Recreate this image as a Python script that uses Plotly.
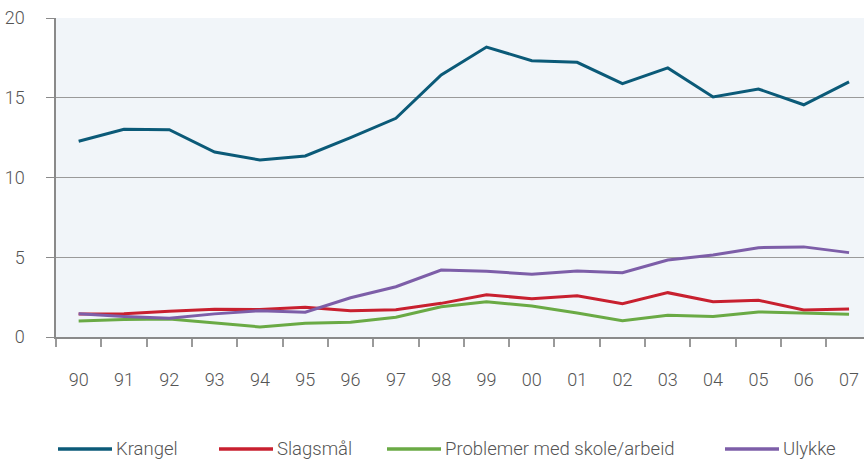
import plotly.graph_objects as go

years = ["90", "91", "92", "93", "94", "95", "96", "97", "98", "99",
         "00", "01", "02", "03", "04", "05", "06", "07"]
krangel = [12.27, 13.02, 13.0, 11.6, 11.1, 11.35, 12.5, 13.71, 16.43, 18.18,
           17.32, 17.22, 15.88, 16.87, 15.05, 15.55, 14.56, 16.0]
slagsmal = [1.44, 1.45, 1.62, 1.74, 1.72, 1.86, 1.65, 1.71, 2.11, 2.65,
            2.4, 2.59, 2.09, 2.78, 2.21, 2.3, 1.69, 1.75]
problemer = [1.0, 1.1, 1.13, 0.9, 0.63, 0.86, 0.92, 1.24, 1.9, 2.21,
             1.94, 1.5, 1.02, 1.36, 1.28, 1.57, 1.48, 1.42]
ulykke = [1.45, 1.28, 1.17, 1.45, 1.65, 1.55, 2.46, 3.15, 4.2, 4.12,
          3.93, 4.14, 4.03, 4.83, 5.14, 5.6, 5.65, 5.29]

series = [
    ("Krangel", krangel, "#0b5a78"),
    ("Slagsmål", slagsmal, "#c8202f"),
    ("Problemer med skole/arbeid", problemer, "#6aaa45"),
    ("Ulykke", ulykke, "#7d5ea8"),
]

# legend placement (pixel x of line start) for manual legend
legend_x = [58, 219, 387, 725]

W, H = 864, 460
ML, MR, MT, MB = 56, 0, 18, 123

fig = go.Figure()
idx = list(range(len(years)))
for name, vals, col in series:
    fig.add_trace(go.Scatter(x=idx, y=vals, mode="lines", name=name,
                             line=dict(color=col, width=3), showlegend=False))

font_family = "Roboto"
txtcol = "#555555"

pw = W - ML - MR
ph = H - MT - MB
ly = -(449 - (H - MB)) / ph
for (name, vals, col), lx in zip(series, legend_x):
    x0 = (lx - ML) / pw
    x1 = (lx + 54 - ML) / pw
    fig.add_shape(type="line", xref="paper", yref="paper", x0=x0, x1=x1,
                  y0=ly, y1=ly, line=dict(color=col, width=3.5))
    fig.add_annotation(xref="paper", yref="paper", x=(lx + 56 - ML) / pw,
                       y=ly, text=name, showarrow=False,
                       xanchor="left", yanchor="middle",
                       font=dict(family=font_family, size=18.5, color=txtcol, weight=300))

fig.update_layout(
    width=W, height=H,
    margin=dict(l=ML, r=MR, t=MT, b=MB),
    paper_bgcolor="white",
    plot_bgcolor="#f1f5f9",
    font=dict(family=font_family, size=18, color=txtcol, weight=300),
    xaxis=dict(
        range=[-0.5, 17.33],
        tickmode="array", tickvals=idx, ticktext=years,
        ticks="", showgrid=False, zeroline=False,
        showline=True, linecolor="#8a8a8a", linewidth=1.5,
        ticklabelstandoff=26,
        minor=dict(tick0=-0.5, dtick=1, ticks="outside", ticklen=8,
                   tickcolor="#9a9a9a", tickwidth=1.5, showgrid=False),
        fixedrange=True,
    ),
    yaxis=dict(
        range=[0, 20], tickvals=[0, 5, 10, 15, 20],
        ticks="outside", ticklen=8, tickcolor="#8a8a8a", tickwidth=1,
        showgrid=True, gridcolor="#9a9a9a", gridwidth=1,
        zeroline=False,
        showline=True, linecolor="#8a8a8a", linewidth=1.5,
        ticklabelstandoff=18,
    ),
)

fig.write_html("out.html", config={"displayModeBar": False},
               post_script="document.body.style.margin='0';document.body.style.overflow='hidden';")
